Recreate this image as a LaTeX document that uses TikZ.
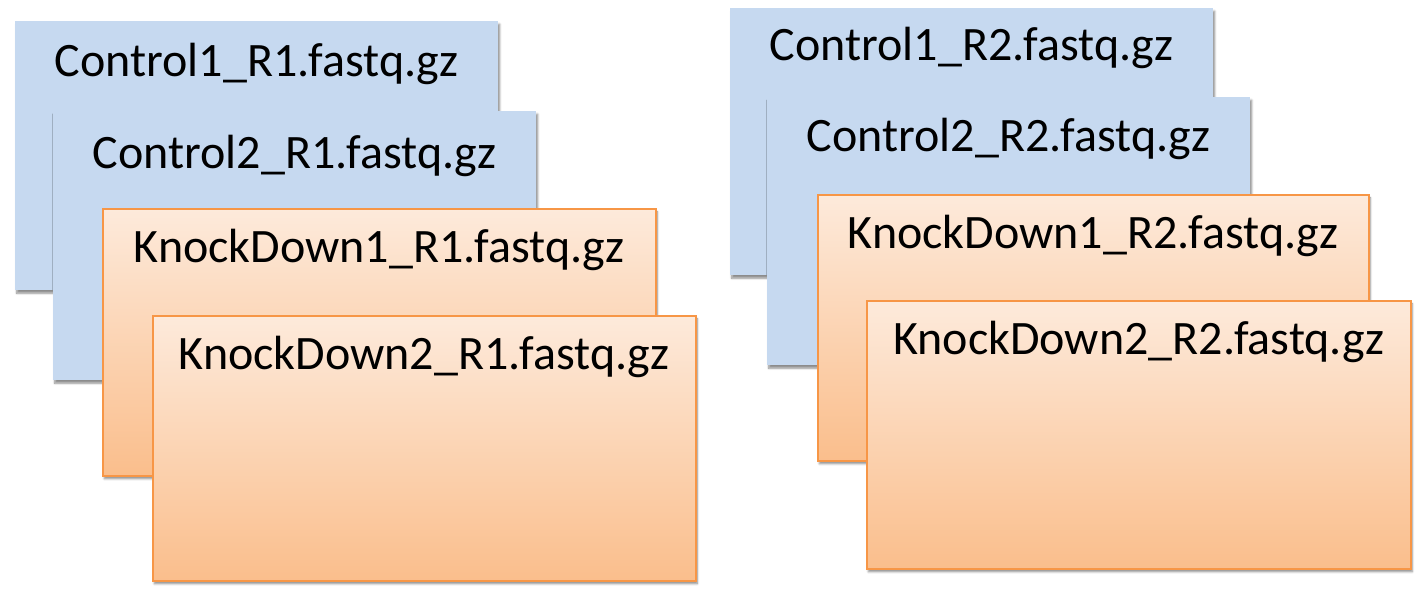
\documentclass[tikz,border=0pt]{standalone}
\usepackage{fontspec}
\setmainfont{Carlito}
\usetikzlibrary{shadows.blur,calc}
\definecolor{ctrlfill}{RGB}{198,217,240}
\definecolor{kdtop}{RGB}{253,234,219}
\definecolor{kdbot}{RGB}{250,190,140}
\definecolor{kdline}{RGB}{247,150,70}
\tikzset{
  x=1pt, y=-1pt,
  filebox/.style={rectangle, anchor=north west, inner sep=0pt,
    blur shadow={shadow xshift=1.5pt, shadow yshift=-3pt, shadow opacity=45,
      shadow blur steps=6, shadow blur radius=2pt, shadow blur extra rounding=0pt}},
  ctrlbox/.style={filebox, fill=ctrlfill},
  kdbox/.style={filebox, draw=kdline, line width=1.6pt, top color=kdtop, bottom color=kdbot},
  fname/.style={anchor=base, inner sep=0pt, font=\fontsize{48}{52}\selectfont}
}
\begin{document}
\begin{tikzpicture}
\useasboundingbox (0,0) rectangle (1422,591);
% ---- read 1 files ----
\node[ctrlbox, minimum width=483pt, minimum height=269pt] (c1a) at (15,21) {};
\node[fname] (c1at) at ($(c1a.north)+(0,56)$) {Control1\_R1.fastq.gz};
\node[ctrlbox, minimum width=483pt, minimum height=269pt] (c2a) at (53,111) {};
\node[fname] (c2at) at ($(c2a.north)+(0,57)$) {Control2\_R1.fastq.gz};
\node[kdbox, minimum width=553pt, minimum height=267pt] (k1a) at (102,208) {};
\node[fname] (k1at) at ($(k1a.north)+(0,54)$) {KnockDown1\_R1.fastq.gz};
\node[kdbox, minimum width=543pt, minimum height=265pt] (k2a) at (152,315) {};
\node[fname] (k2at) at ($(k2a.north)+(0,54)$) {KnockDown2\_R1.fastq.gz};
% ---- read 2 files ----
\node[ctrlbox, minimum width=483pt, minimum height=267pt] (c1b) at (730,8) {};
\node[fname] (c1bt) at ($(c1b.north)+(0,53)$) {Control1\_R2.fastq.gz};
\node[ctrlbox, minimum width=483pt, minimum height=268pt] (c2b) at (767,97) {};
\node[fname] (c2bt) at ($(c2b.north)+(0,55)$) {Control2\_R2.fastq.gz};
\node[kdbox, minimum width=551pt, minimum height=266pt] (k1b) at (817,194) {};
\node[fname] (k1bt) at ($(k1b.north)+(0,54)$) {KnockDown1\_R2.fastq.gz};
\node[kdbox, minimum width=544pt, minimum height=268pt] (k2b) at (866,300) {};
\node[fname] (k2bt) at ($(k2b.north)+(0,54)$) {KnockDown2\_R2.fastq.gz};
\end{tikzpicture}
\end{document}
